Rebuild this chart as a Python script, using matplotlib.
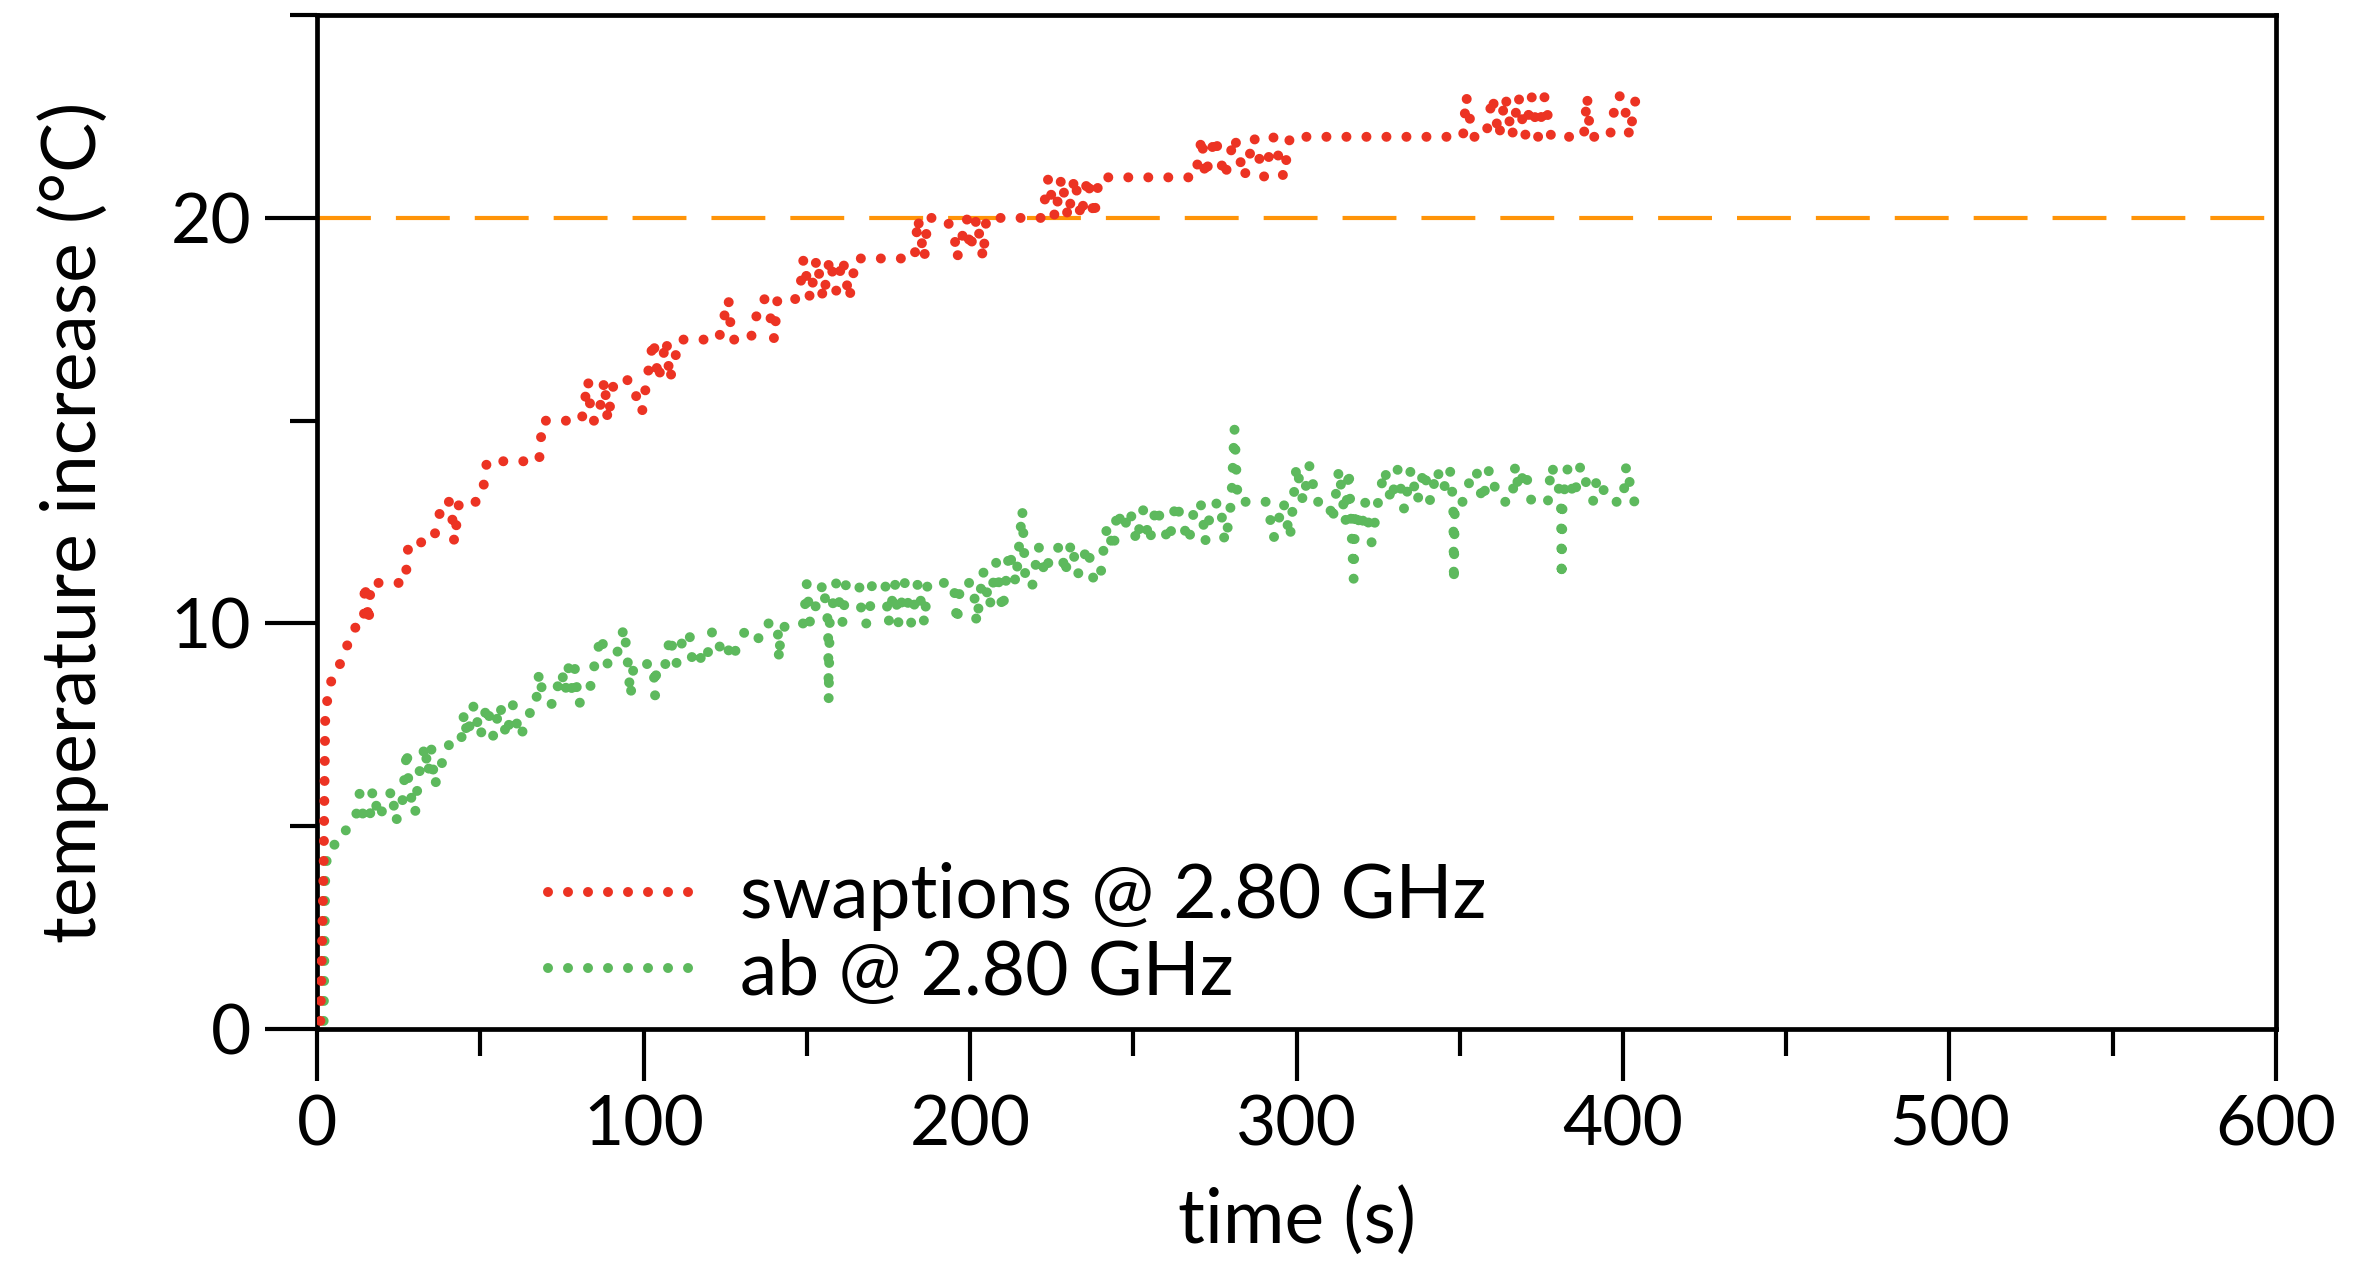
import matplotlib
matplotlib.use("Agg")
import matplotlib.pyplot as plt
from matplotlib.ticker import MultipleLocator

plt.rcParams['font.family'] = ['Lato', 'DejaVu Sans']
plt.rcParams['lines.scale_dashes'] = False

# ---------------- data ----------------
swap_t = [1.0, 2.0, 2.5, 3.5, 5.0, 7.0, 9.0, 10.5, 13.0, 14.3, 14.6, 15.8, 16.4, 22, 27, 28, 35,
          37, 38, 41, 42, 43.5, 49, 51, 52, 68, 69, 81, 83, 84, 86, 88, 89, 91, 96, 99.5, 101,
          103, 104.5, 107, 108, 111, 119, 123, 126, 127, 132.6, 134, 135, 137, 139, 140, 141,
          146.7, 148, 149, 151, 153, 155, 157, 159, 161, 163, 165, 166, 178, 183, 184, 186, 187,
          192, 195, 196, 199, 200, 202, 204, 205, 222, 224, 226, 228, 230, 232, 234, 236, 238,
          239.5, 264, 269, 271, 272, 275, 278, 281, 284, 287, 290, 293, 296, 298, 351, 352, 354,
          358, 360, 362, 364, 366, 368, 370, 372, 374, 376, 378, 386, 388, 389, 390, 396, 398,
          400, 402, 404, 408]
swap_T = [0.2, 4.0, 7.8, 8.3, 8.8, 9.0, 9.4, 9.8, 10.0, 10.0, 11.0, 10.0, 11.0, 11, 11, 12, 12,
          12.4, 13, 13, 12, 13, 13, 13.4, 14, 14, 15, 15, 16, 15, 15, 16, 15, 16, 16, 15.2, 16,
          17, 16, 17, 16, 17, 17, 17, 18, 17, 17, 17.3, 17.8, 18, 17.5, 17, 18,
          18, 18.3, 19, 18, 19, 18, 19, 18.2, 19, 18, 19, 19, 19, 19, 20, 19, 20,
          20, 19.7, 19, 20, 19.2, 20, 19, 20, 20, 21, 20, 21, 20, 21, 20, 21, 20,
          21, 21, 21, 22, 21, 22, 21, 22, 21, 22, 21, 22, 21, 22, 22, 23, 22,
          22, 23, 22, 23, 22, 23, 22, 23, 22, 23, 22, 22, 22, 23, 22, 22, 23,
          23, 22, 23, 23]

ab_t = [2, 2.5, 3, 5, 5.5, 7, 10, 12, 13, 14, 16, 17, 19, 21, 23, 24, 26, 27.5, 28, 30, 31,
        33, 34, 35, 36, 40, 44, 45, 46, 48, 50, 52, 54, 56, 58, 60, 62, 64, 66, 67, 68, 69, 72,
        75, 76, 77, 78, 79, 80, 82, 84, 85, 87, 88, 89, 91, 94, 95, 96, 97, 100, 103, 103.5,
        104, 107, 108, 110, 112, 114, 115, 117, 119, 121, 123, 125, 127, 129, 131, 133, 135,
        137, 141, 141.5, 142, 144, 149, 150, 151, 155, 156.5, 156.7, 157, 159, 161, 162, 166,
        167, 169, 170, 174, 175, 177, 178, 180, 182, 184, 186, 187, 195, 196, 197, 201, 202,
        204, 206, 208, 210, 212, 214, 216, 217, 219, 221, 223, 225, 228, 229, 231, 233, 236,
        238, 240, 241, 242, 244, 245, 247, 249, 251, 253, 255, 257, 259, 261, 263, 265, 267,
        269, 271, 272, 274, 276.6, 278, 279, 280, 281, 282, 291, 293, 296, 298, 299, 300, 302,
        304, 306, 310, 311, 313, 315, 316, 317.5, 318, 320, 321, 323, 325, 327, 329, 331, 333,
        335, 337, 339, 341, 343, 345, 347, 348, 348.2, 348.5, 351, 353, 355, 357, 359, 361,
        363, 366, 367, 368, 370, 372, 377, 378, 380, 381, 381.2, 381.5, 383, 385, 387, 389,
        391, 392, 396, 400, 401, 402, 403.5]
ab_T = [0.2, 3.9, 4.2, 4.3, 4.7, 4.75, 5.0, 5.3, 5.8, 5.3, 5.1, 5.9, 5.2, 5.6, 5.9, 5.1, 5.5,
        6.9, 6.0, 5.3, 6.2, 7.0, 6.3, 6.9, 6.0, 7.0, 7.0, 7.8, 7.2, 8.0, 7.2, 8.0, 7.2, 8.0,
        7.2, 8.0, 7.2, 7.5, 8.0, 8.0, 8.8, 8.3, 8.0,
        8.8, 8.3, 8.9, 8.4, 8.9, 8.0, 8.2, 8.5, 9.0, 9.7, 9.3, 9.0, 9.0, 9.9, 9.2, 8.2, 9.0,
        9.0, 9.0, 8.2, 9.0, 9.0, 9.7, 9.0, 9.6, 9.8, 9.0, 9.2, 9.0, 9.8, 9.4, 9.6, 9.1, 9.5,
        9.8, 9.6, 9.6, 10.0, 10.0, 9.1, 9.8, 10.0, 10.0, 11.0, 10.0, 11.0, 10.0, 8.1, 10.0,
        11.0, 10.0, 11.0, 11.0, 10.0, 10.0, 11.0, 11.0, 10.0, 11.0, 10.0, 11.0, 10.0, 11.0,
        10.0, 11.0, 11.0, 10.0, 11.0, 11.0, 10.0, 11.3, 10.4, 11.5, 10.3, 11.8, 11.0, 12.8,
        11.0, 10.9, 11.9, 11.2, 11.8, 11.9, 11.2, 12.0, 11.2, 11.9, 11.0, 11.2, 11.9, 12.4,
        11.8, 12.8, 12.3, 12.8, 12.0, 12.8, 12.0, 12.9, 12.4, 12.0, 13.0, 12.5, 12.0, 13.0,
        12.9, 12.0, 12.9, 13.0, 12.0, 12.4, 13.0, 14.8, 13.0, 13.0, 12.1, 13.0, 12.1, 13.0,
        13.9, 13.0, 13.9, 13.0, 13.0, 12.5, 13.8, 12.5, 13.8, 11.1, 12.8, 12.3, 13.0, 12.0,
        13.0, 13.8, 13.0, 13.8, 12.8, 13.8, 13.0, 13.8, 13.0, 13.8, 13.3, 13.8, 13.0, 11.0,
        13.0, 13.0, 13.5, 13.8, 13.0, 13.8, 13.3, 13.0, 13.0, 13.9, 13.3, 13.8, 13.0, 13.0,
        13.9, 13.5, 13.0, 11.1, 13.0, 13.8, 13.1, 13.9, 13.4, 13.0, 13.6, 13.0, 13.0, 13.9,
        13.5, 13.0]

labels = ["swaptions @ 2.80 GHz", "ab @ 2.80 GHz"]
threshold = 20
x_ticks = [0, 100, 200, 300, 400, 500, 600]
y_ticks = [0, 10, 20]

RED = '#EC3323'
GREEN = '#5DB95D'
ORANGE = '#FF9408'

fig = plt.figure(figsize=(11.78, 6.31), dpi=200)
ax = fig.add_axes([0.1346, 0.1846, 0.966 - 0.1346, 0.988 - 0.1846])

dot = (0.001, 7.2)
ax.axhline(threshold, color=ORANGE, lw=1.5, dashes=(19.4, 9.0), zorder=1)
ax.plot(swap_t, swap_T, color=RED, lw=3.6, dashes=dot, dash_capstyle='round',
        label=labels[0], zorder=3)
ax.plot(ab_t, ab_T, color=GREEN, lw=3.6, dashes=dot, dash_capstyle='round',
        label=labels[1], zorder=2)

ax.set_xlim(0, 600)
ax.set_ylim(0, 25)
ax.set_xticks(x_ticks)
ax.set_yticks(y_ticks)
ax.xaxis.set_minor_locator(MultipleLocator(50))
ax.yaxis.set_minor_locator(MultipleLocator(5))
ax.tick_params(which='major', length=18.7, width=1.5, labelsize=25, pad=5)
ax.tick_params(which='minor', length=9.7, width=1.5)
ax.tick_params(top=False, right=False, which='both')
for s in ax.spines.values():
    s.set_linewidth(1.7)

ax.set_xlabel("time (s)", fontsize=27, labelpad=10)
ax.set_ylabel("temperature increase (°C)", fontsize=27, labelpad=22)

leg = ax.legend(loc='lower left', bbox_to_anchor=(0.118, 0.021), frameon=False,
                fontsize=27, handlelength=2.0, handletextpad=0.55, labelspacing=0.1,
                borderaxespad=0, borderpad=0)

fig.savefig("out.png", dpi=200)
